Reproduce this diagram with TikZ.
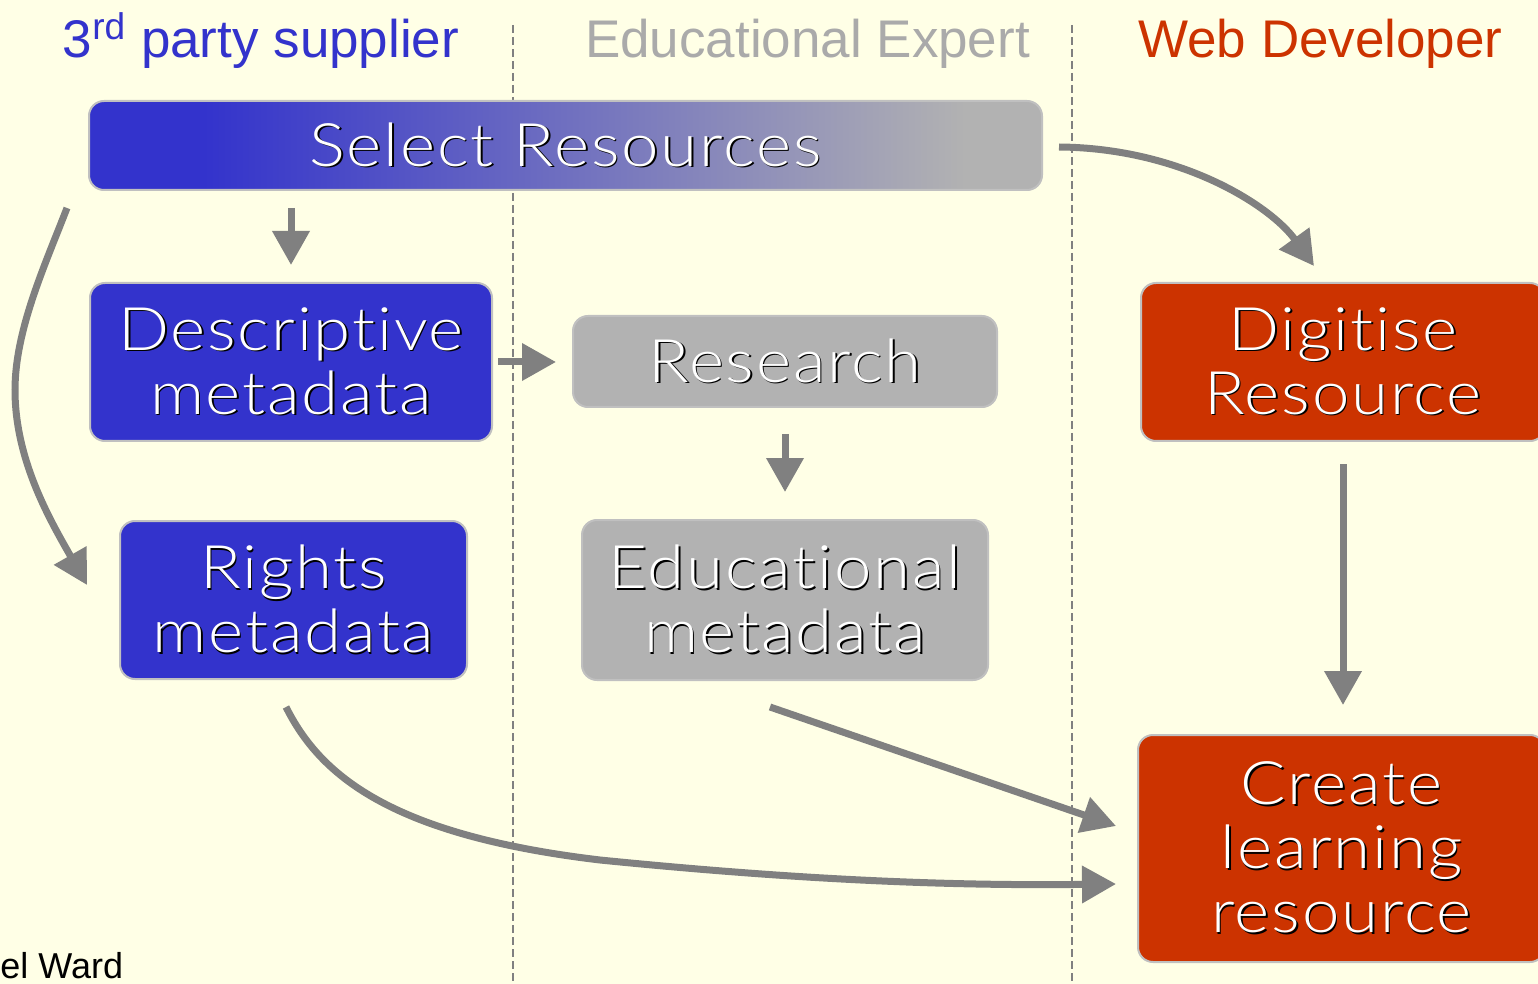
\documentclass[tikz,border=0pt]{standalone}
\usepackage{fontspec}
\setmainfont{Liberation Sans}
\newfontfamily\boxfont[FakeStretch=1.12,LetterSpace=3,Ligatures=NoCommon]{Lato Light}
\usetikzlibrary{arrows.meta,calc}
\definecolor{bgc}{RGB}{255,255,230}
\definecolor{sblue}{RGB}{51,51,204}
\definecolor{sgray}{RGB}{178,178,178}
\definecolor{sred}{RGB}{204,51,0}
\definecolor{hgray}{RGB}{170,170,170}
\definecolor{arrc}{RGB}{128,128,128}
\definecolor{bord}{RGB}{192,192,192}
\pgfdeclarehorizontalshading{selshade}{100bp}{color(0bp)=(sblue); color(31bp)=(sblue); color(71bp)=(sgray); color(100bp)=(sgray)}
\newcommand\shd[1]{\leavevmode\rlap{\kern0.8pt\raisebox{-0.8pt}{\color{black}#1}}#1}
\tikzset{
  box/.style={rounded corners=7.5pt, draw=bord, line width=1pt, text=white,
    font=\boxfont\fontsize{30}{32}\selectfont, align=center, inner sep=0pt},
  arr/.style={draw=arrc, line width=3.5pt, -{Triangle[length=17pt,width=18pt]}},
  dline/.style={draw=arrc, line width=1pt, dash pattern=on 4pt off 2pt},
  head/.style={anchor=base, inner sep=0pt, font=\fontsize{26.5}{30}\selectfont}
}
\begin{document}
\begin{tikzpicture}[x=0.5pt,y=-0.5pt]
\path[use as bounding box, fill=bgc] (0,0) rectangle (1538,984);
% lane dividers
\draw[dline] (513,25) -- (513,984);
\draw[dline] (1072,25) -- (1072,984);
% headers
\node[head, text=sblue] (h1) at (261,58) {3\textsuperscript{rd} party supplier};
\node[head, text=hgray] (h2) at (807.5,58) {Educational Expert};
\node[head, text=sred] (h3) at (1320.5,58) {Web Developer};
% boxes
\node[box, shading=selshade, minimum width=476.5pt, minimum height=44.5pt] (sel) at (565.5,145.5) {\shd{Select Resources}};
\node[box, fill=sblue, minimum width=201pt, minimum height=79pt] (desc) at (291,362) {\shd{Descriptive}\\\shd{metadata}};
\node[box, fill=sblue, minimum width=173.5pt, minimum height=79pt] (rights) at (293.5,600) {\shd{Rights}\\\shd{metadata}};
\node[box, fill=sgray, minimum width=212pt, minimum height=45.5pt] (res) at (785,361.5) {\shd{Research}};
\node[box, fill=sgray, minimum width=203pt, minimum height=80pt] (edu) at (785,600) {\shd{Educational}\\\shd{metadata}};
\node[box, fill=sred, minimum width=202pt, minimum height=79pt] (dig) at (1343,362) {\shd{Digitise}\\\shd{Resource}};
\node[box, fill=sred, minimum width=203.5pt, minimum height=113.5pt] (create) at (1341.5,848.5) {\shd{Create}\\\shd{learning}\\\shd{resource}};
% author
\node[anchor=base west, inner sep=0pt, font=\fontsize{18}{20}\selectfont] (author) at (0,978) {el Ward};
% connectors
\coordinate (lb) at (15,390);
\draw[arr] ([yshift=-8.5pt]sel.south -| desc.north) -- ([yshift=8.5pt]desc.north);
\draw[arr] ([xshift=2.5pt]desc.east) -- ([xshift=-8pt]res.west |- desc.east);
\draw[arr] ([yshift=-13pt]res.south) -- ([yshift=13.5pt]edu.north);
\draw[arr] ([yshift=-11pt]dig.south) -- ([yshift=14.5pt]create.north -| dig.south);
\draw[arr] ($(sel.south west)+(-21,17)$) .. controls (45,265) and (15,330) .. (lb)
   .. controls (15,460) and (50,520) .. ($(rights.west)+(-32,-15)$);
\draw[arr] ($(sel.east)+(16,1.5)$) .. controls (1180,148) and (1270,205) .. ($(dig.north)+(-29,-16)$);
\draw[arr] ($(edu.south)+(-15,26)$) -- ($(create.west)+(-21,-22.5)$);
\draw[arr] ($(rights.south)+(-7.5,27)$) .. controls (320,775) and (390,835) .. (600,860)
   .. controls (800,880) and (950,886) .. ($(create.west)+(-21,35.5)$);
\end{tikzpicture}
\end{document}
